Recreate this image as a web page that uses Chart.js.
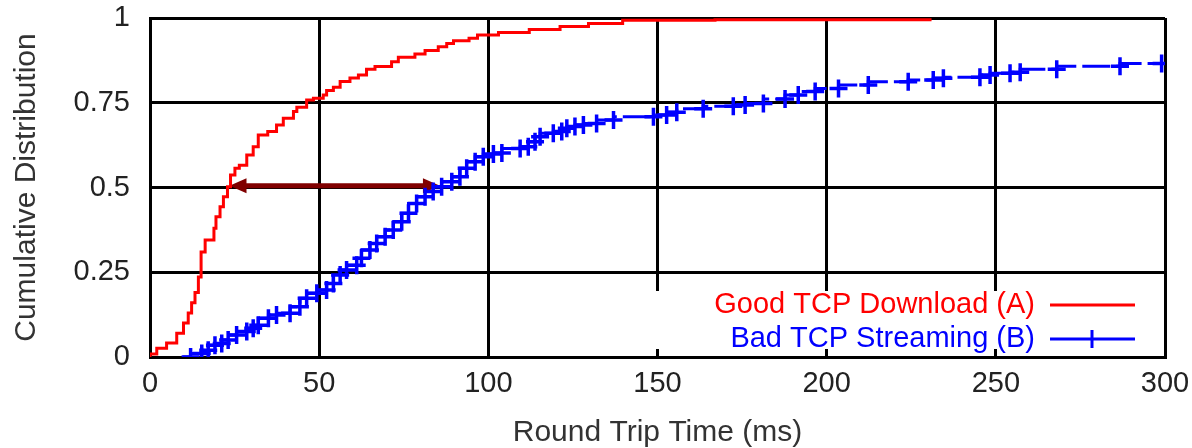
<!DOCTYPE html>
<html>
<head>
<meta charset="utf-8">
<script src="https://cdn.jsdelivr.net/npm/chart.js@4.4.1/dist/chart.umd.min.js"></script>
<style>
  html, body { margin: 0; padding: 0; background: #fff; }
  #wrap { width: 1192px; height: 448px; }
</style>
</head>
<body>
<div id="wrap"><canvas id="cdfChart" width="1192" height="448"></canvas></div>
<script>
// Dados (CDF do RTT)

const xTicks = [0, 50, 100, 150, 200, 250, 300];
const yTicks = [0, 0.25, 0.5, 0.75, 1];

const goodLabel = 'Good TCP Download (A)';
const goodX = [0, 2, 4.9, 7.9, 9.9, 11.3, 12.3, 13.3, 14.3, 15.1, 16.3, 18.9, 19.5, 20.7, 21.7,
    22.9, 23.8, 25.1, 26.4, 28.6, 30.5, 32, 34.8, 37.4, 39.4, 42.4, 43.4, 46.3, 48.3, 51.2,
    52.2, 54.2, 56.2, 59.1, 61.6, 64.0, 66.5, 71.4, 73.4, 78.3, 81.3, 85.2, 87.7, 89.7, 94.3,
    96.8, 103, 112.1, 121.2, 129.6, 139.7, 167, 231];
const goodY = [0, 0.009, 0.026, 0.041, 0.07, 0.10, 0.13, 0.16, 0.19, 0.236, 0.31, 0.345, 0.38, 0.414, 0.443,
    0.473, 0.502, 0.537, 0.557, 0.566, 0.596, 0.62, 0.655, 0.665, 0.684, 0.704, 0.724, 0.737, 0.758, 0.763,
    0.773, 0.786, 0.796, 0.813, 0.823, 0.832, 0.849, 0.857, 0.871, 0.884, 0.894, 0.904, 0.915, 0.925, 0.933,
    0.94, 0.95, 0.957, 0.966, 0.975, 0.984, 0.993, 0.995];

const badLabel = 'Bad TCP Streaming (B)';
const badX = [9.8, 12, 15.3, 17.2, 19.2, 21.2, 23.1, 25.6, 28.6, 30.5, 32, 35, 37.4, 41.4, 44.3,
    46.3, 49.3, 52.2, 54.2, 56.2, 58.1, 61.1, 62.5, 65, 67, 69.5, 71.9, 74.4, 76.4, 78.8,
    81.3, 83.7, 86.2, 89.2, 91.6, 93.6, 96.1, 98.5, 101.5, 104, 109.4, 111.8, 113.8, 115.3, 119.2,
    121.7, 123.2, 125.6, 128.1, 132, 137, 148.8, 152.7, 155.7, 163.5, 172.4, 175.9, 181.3, 187.7, 191.6,
    196.6, 203.5, 212.3, 224.1, 231.5, 234.5, 245.3, 248.3, 254.2, 257.2, 268, 286.7, 299, 300];
const badY = [0, 0, 0.01, 0.02, 0.035, 0.04, 0.05, 0.065, 0.075, 0.085, 0.094, 0.114, 0.124, 0.129, 0.148,
    0.173, 0.188, 0.198, 0.217, 0.242, 0.257, 0.271, 0.291, 0.316, 0.335, 0.355, 0.375, 0.399, 0.424, 0.453,
    0.473, 0.488, 0.502, 0.517, 0.532, 0.557, 0.576, 0.591, 0.599, 0.602, 0.615, 0.62, 0.635, 0.65, 0.66,
    0.665, 0.675, 0.68, 0.684, 0.689, 0.699, 0.709, 0.714, 0.722, 0.732, 0.74, 0.743, 0.748, 0.761, 0.773,
    0.783, 0.792, 0.802, 0.812, 0.817, 0.822, 0.825, 0.832, 0.837, 0.84, 0.849, 0.858, 0.866, 0.866];

// seta entre as duas curvas na mediana
const arrowFrom = 23.5;
const arrowTo = 85.7;
const arrowLevel = 0.505;

const toPoints = (xs, ys) => xs.map((x, i) => ({ x: x, y: ys[i] }));

Chart.defaults.font.family = '"Liberation Sans", Arial, Helvetica, sans-serif';
Chart.defaults.font.size = 29;

// seta bidirecional (desenhada antes das curvas)
const arrowPlugin = {
    id: 'arrow',
    beforeDatasetsDraw(chart) {
        const c = chart.ctx, xs = chart.scales.x, ys = chart.scales.y;
        const x1 = xs.getPixelForValue(arrowFrom), x2 = xs.getPixelForValue(arrowTo);
        const y = ys.getPixelForValue(arrowLevel);
        const head = 17, half = 7.5;
        c.save();
        c.strokeStyle = '#800000';
        c.fillStyle = '#800000';
        c.lineWidth = 5;
        c.beginPath();
        c.moveTo(x1 + head - 2, y);
        c.lineTo(x2 - head + 2, y);
        c.stroke();
        c.beginPath();
        c.moveTo(x1, y); c.lineTo(x1 + head, y - half); c.lineTo(x1 + head, y + half); c.closePath();
        c.fill();
        c.beginPath();
        c.moveTo(x2, y); c.lineTo(x2 - head, y - half); c.lineTo(x2 - head, y + half); c.closePath();
        c.fill();
        c.restore();
    }
};

// legenda estilo gnuplot, dentro da área do gráfico
const legendPlugin = {
    id: 'gnuLegend',
    afterDatasetsDraw(chart) {
        const c = chart.ctx, a = chart.chartArea;
        c.save();
        c.fillStyle = '#ffffff';
        c.fillRect(a.right - 545, a.bottom - 66, 543, 58);
        c.font = '29px "Liberation Sans", Arial, sans-serif';
        c.textAlign = 'right';
        c.textBaseline = 'middle';
        const rows = [
            { label: goodLabel, color: '#ff0000', y: a.bottom - 52, cross: false },
            { label: badLabel, color: '#0000ff', y: a.bottom - 18, cross: true }
        ];
        rows.forEach(r => {
            c.fillStyle = r.color;
            c.fillText(r.label, a.right - 130, r.y);
            c.strokeStyle = r.color;
            c.lineWidth = 3;
            c.beginPath();
            c.moveTo(a.right - 115, r.y);
            c.lineTo(a.right - 30, r.y);
            c.stroke();
            if (r.cross) {
                const cx = a.right - 73;
                c.beginPath();
                c.moveTo(cx, r.y - 9);
                c.lineTo(cx, r.y + 9);
                c.stroke();
            }
        });
        c.restore();
    }
};

const ctx = document.getElementById('cdfChart').getContext('2d');
const cdfChart = new Chart(ctx, {
    type: 'line',
    data: {
        datasets: [{
            label: badLabel,
            data: toPoints(badX, badY),
            borderColor: '#0000ff',
            backgroundColor: '#0000ff',
            borderWidth: 3,
            borderDash: [28, 6],
            stepped: 'after',
            fill: false,
            pointStyle: 'cross',
            pointRadius: c => (c.dataIndex === 0 || c.dataIndex === badX.length - 1) ? 0 : 9,
            pointBorderWidth: 3.5,
            pointBorderColor: '#0000ff',
        }, {
            label: goodLabel,
            data: toPoints(goodX, goodY),
            borderColor: '#ff0000',
            borderWidth: 3,
            stepped: 'after',
            fill: false,
            pointRadius: 0,
        }]
    },
    options: {
        responsive: false,
        animation: false,
        layout: {
            padding: { top: 18, right: 27, left: 0, bottom: 0 }
        },
        plugins: {
            legend: { display: false },
            tooltip: { enabled: false }
        },
        scales: {
            x: {
                type: 'linear',
                min: 0,
                max: 300,
                afterFit: s => { s.height = 91; s.paddingLeft = 0; s.paddingRight = 0; },
                afterBuildTicks: s => { s.ticks = xTicks.map(v => ({ value: v })); },
                grid: { color: '#000', lineWidth: 3, drawTicks: false },
                border: { color: '#000', width: 3 },
                ticks: { color: '#222', padding: 10, maxRotation: 0, callback: v => String(v) },
                title: {
                    display: true,
                    text: 'Round Trip Time (ms)',
                    color: '#333',
                    font: { size: 30, lineHeight: 1 },
                    padding: 0
                }
            },
            y: {
                type: 'linear',
                min: 0,
                max: 1,
                afterFit: s => { s.width = 150; s.paddingTop = 0; s.paddingBottom = 0; },
                afterBuildTicks: s => { s.ticks = yTicks.map(v => ({ value: v })); },
                grid: { color: '#000', lineWidth: 3, drawTicks: false },
                border: { color: '#000', width: 3 },
                ticks: { color: '#222', padding: 20, callback: v => String(v) },
                title: {
                    display: true,
                    text: 'Cumulative Distribution',
                    color: '#333',
                    font: { size: 30 },
                    padding: { top: 9, bottom: 0 }
                }
            }
        }
    },
    plugins: [arrowPlugin, legendPlugin]
});
</script>
</body>
</html>
